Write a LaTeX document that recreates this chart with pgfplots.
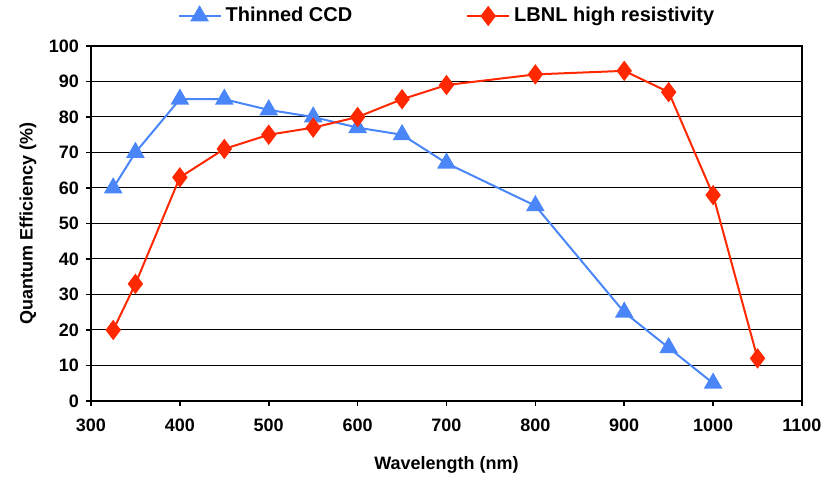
\documentclass[border=0pt]{standalone}
\usepackage{pgfplots}
\pgfplotsset{compat=1.18}
\usepackage{fontspec}
\setmainfont{Liberation Sans}
\definecolor{ccdblue}{RGB}{74,134,248}
\definecolor{lbnlred}{RGB}{255,40,0}
\begin{document}
\begin{tikzpicture}
\useasboundingbox (-45.5pt,-38pt) rectangle (370pt,200.5pt);
\begin{axis}[
  at={(0,0)}, anchor=south west,
  width=355.5pt, height=177.5pt, scale only axis,
  xmin=300, xmax=1100, ymin=0, ymax=100,
  xtick={300,400,...,1100}, ytick={0,10,...,100},
  xtick pos=left, ytick pos=left, tick align=outside,
  major tick length=2.5pt,
  tick style={black, line width=0.8pt},
  axis line style={black, line width=0.8pt},
  ymajorgrids, grid style={black, line width=0.5pt},
  font=\bfseries\fontsize{9pt}{11pt}\selectfont,
  /pgf/number format/assume math mode=true,
  /pgf/number format/1000 sep={},
  ticklabel style={font=\bfseries\fontsize{9pt}{11pt}\selectfont},
  xticklabel style={yshift=-3pt},
  xlabel={Wavelength (nm)}, ylabel={Quantum Efficiency (\%)},
  xlabel style={font=\bfseries\fontsize{9pt}{11pt}\selectfont, at={(rel axis cs:0.5,0)}, anchor=center, yshift=-32pt},
  ylabel style={font=\bfseries\fontsize{9pt}{11pt}\selectfont, at={(rel axis cs:0,0.5)}, anchor=center, yshift=31.5pt},
  legend columns=2,
  legend style={draw=none, at={(0.502,1.0845)}, anchor=center, font=\bfseries\fontsize{10pt}{12pt}\selectfont, /tikz/every even column/.append style={column sep=55pt}},
  legend image code/.code={\draw[#1] (0pt,0pt) -- (21pt,0pt); \draw[#1, mark repeat=1] plot coordinates {(10.5pt,0pt)};},
  clip=false,
]
\addplot[color=ccdblue, line width=1pt, mark=triangle*, mark size=4.4pt, mark options={fill=ccdblue, draw=ccdblue}] coordinates {
(325,60) (350,70) (400,85) (450,85) (500,82) (550,80) (600,77) (650,75) (700,67) (800,55) (900,25) (950,15) (1000,5)};
\addlegendentry{Thinned CCD}
\addplot[color=lbnlred, line width=1pt, mark=diamond*, mark size=4.3pt, mark options={fill=lbnlred, draw=lbnlred}] coordinates {
(325,20) (350,33) (400,63) (450,71) (500,75) (550,77) (600,80) (650,85) (700,89) (800,92) (900,93) (950,87) (1000,58) (1050,12)};
\addlegendentry{LBNL high resistivity}
\end{axis}
\end{tikzpicture}
\end{document}
